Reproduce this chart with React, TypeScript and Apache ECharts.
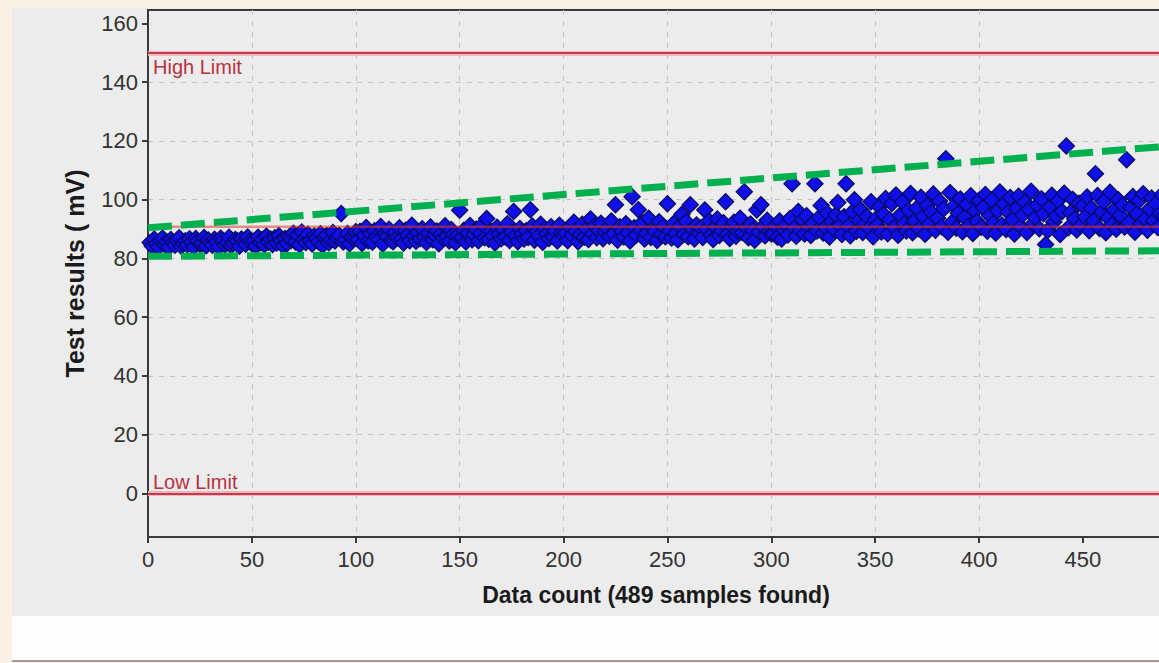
import React, { useEffect, useRef } from "react";
import * as echarts from "echarts";

// Test results (mV) by sample number, 489 samples in blocks of 50
const seg0 = [85.4, 84.2, 86.6, 85.0, 83.9, 86.1, 86.9, 84.7, 85.7, 83.8, 86.4, 85.3, 84.5, 86.2, 87.0, 84.1, 85.1, 86.0, 84.6, 86.7, 85.5, 83.9, 86.8, 85.9, 84.8, 85.0, 87.1, 84.3, 86.3, 85.2, 84.5, 86.5, 85.7, 84.0, 86.9, 86.2, 84.6, 85.3, 87.2, 84.4, 85.1, 86.4, 86.0, 84.1, 86.6, 85.5, 84.8, 87.3, 85.8, 85.0];
const seg1 = [85.8, 84.3, 87.2, 85.3, 86.4, 84.6, 87.5, 85.5, 86.6, 84.7, 87.0, 85.2, 87.7, 86.0, 84.4, 86.8, 85.1, 87.4, 86.2, 88.6, 85.6, 88.0, 84.6, 89.0, 86.4, 85.4, 88.2, 86.0, 84.9, 87.6, 86.8, 85.7, 88.4, 84.5, 87.2, 87.8, 85.3, 86.3, 88.8, 85.9, 87.0, 87.9, 95.3, 85.6, 86.4, 88.5, 85.0, 87.3, 86.6, 89.1];
const seg2 = [86.4, 89.2, 85.1, 87.8, 90.5, 85.9, 88.5, 85.5, 89.4, 87.3, 86.5, 90.9, 84.9, 88.1, 87.5, 89.9, 86.2, 85.7, 88.9, 87.0, 90.4, 86.8, 85.2, 89.6, 88.0, 86.0, 91.3, 87.6, 85.8, 88.8, 86.7, 90.1, 87.2, 85.4, 88.6, 90.7, 86.3, 87.9, 89.3, 85.0, 88.3, 86.9, 91.1, 87.4, 85.9, 89.8, 88.1, 85.3, 87.8, 96.4];
const seg3 = [87.2, 89.6, 85.6, 88.7, 91.2, 86.3, 88.0, 89.9, 86.0, 88.4, 91.5, 87.0, 93.6, 86.5, 89.2, 87.6, 85.2, 90.6, 88.2, 86.7, 89.8, 87.3, 91.8, 86.1, 88.9, 96.0, 87.8, 85.7, 90.2, 88.5, 86.6, 89.4, 87.1, 96.6, 91.0, 86.2, 89.1, 87.7, 91.6, 85.5, 90.0, 88.3, 86.8, 90.8, 87.4, 89.3, 85.9, 91.3, 88.6, 87.9];
const seg4 = [88.6, 86.0, 90.6, 87.8, 92.3, 89.2, 85.7, 88.1, 91.6, 87.2, 89.9, 86.4, 93.4, 88.5, 91.0, 87.0, 89.5, 92.0, 86.7, 89.0, 90.3, 87.5, 92.7, 88.3, 98.3, 86.2, 90.8, 89.1, 87.3, 91.8, 88.8, 85.9, 101.0, 90.4, 88.0, 96.6, 89.6, 92.2, 86.6, 88.6, 93.7, 87.1, 90.2, 89.3, 86.1, 92.5, 88.2, 90.9, 87.4, 98.6];
const seg5 = [89.4, 86.9, 91.9, 88.5, 86.3, 91.0, 95.0, 88.2, 92.6, 87.4, 98.3, 89.8, 86.6, 91.4, 88.7, 90.4, 87.1, 96.5, 90.0, 92.8, 88.0, 86.4, 90.7, 93.4, 87.8, 89.5, 92.1, 99.3, 88.4, 86.8, 91.1, 92.3, 87.5, 89.2, 93.7, 88.8, 102.7, 90.5, 87.0, 91.7, 89.7, 86.2, 96.5, 89.0, 98.3, 90.8, 87.7, 93.0, 89.1, 88.3];
const seg6 = [88.5, 91.1, 87.2, 92.7, 86.6, 89.7, 91.5, 88.0, 93.6, 105.4, 90.2, 87.5, 96.0, 89.5, 93.1, 88.3, 94.5, 90.8, 87.8, 92.0, 105.4, 89.3, 93.9, 98.0, 88.6, 90.6, 95.4, 87.3, 92.4, 89.9, 94.9, 99.0, 91.2, 88.1, 94.2, 105.4, 90.9, 87.7, 95.8, 100.0, 89.2, 92.9, 96.6, 88.8, 91.8, 94.3, 90.3, 99.3, 87.4, 93.2];
const seg7 = [91.3, 97.6, 89.0, 95.0, 100.4, 88.4, 93.2, 98.7, 90.5, 101.6, 87.9, 94.8, 99.2, 91.9, 89.3, 96.4, 102.1, 88.7, 92.8, 97.1, 90.0, 100.8, 94.3, 88.2, 98.0, 91.6, 95.7, 101.9, 89.6, 93.7, 99.5, 90.8, 96.9, 113.9, 88.9, 102.4, 92.3, 97.8, 90.3, 95.4, 100.2, 89.1, 94.0, 98.4, 91.1, 101.3, 88.5, 96.1, 92.6, 99.8];
const seg8 = [90.6, 97.3, 101.8, 89.2, 94.6, 99.9, 92.0, 88.6, 96.2, 102.6, 91.4, 98.5, 89.8, 95.8, 100.7, 93.1, 88.3, 97.0, 101.2, 90.9, 94.9, 99.1, 88.8, 96.7, 102.9, 91.8, 93.9, 98.1, 90.1, 100.3, 95.2, 84.7, 89.5, 97.5, 101.5, 92.4, 94.4, 99.6, 88.1, 96.0, 102.2, 118.3, 90.4, 95.6, 100.1, 93.5, 89.7, 98.8, 91.2, 97.9];
const seg9 = [94.1, 100.9, 89.4, 97.2, 92.7, 108.8, 101.4, 90.2, 95.9, 99.3, 88.7, 93.8, 102.5, 91.5, 96.6, 89.9, 100.0, 94.7, 98.2, 90.7, 113.6, 92.1, 97.4, 101.1, 88.9, 95.3, 99.7, 91.9, 102.0, 93.3, 89.6, 96.8, 100.6, 92.8, 98.6, 90.5, 95.1, 101.7, 94.5];

const highLimit = 150;
const lowLimit = 0;
const meanLevel = [[0, 90.8], [489, 90.8]];
const upperTrend = [[0, 90.4], [489, 118.1]];
const lowerTrend = [[0, 80.7], [489, 82.6]];

const xTicks = [0, 50, 100, 150, 200, 250, 300, 350, 400, 450];
const yTicks = [0, 20, 40, 60, 80, 100, 120, 140, 160];

const xName = "Data count (489 samples found)";
const yName = "Test results ( mV)";

const FONT = "'Liberation Sans', Arial, Helvetica, sans-serif";

export default function App() {
  const ref = useRef<HTMLDivElement>(null);

  useEffect(() => {
    if (!ref.current) return;
    const chart = echarts.init(ref.current, null, { renderer: "svg" });
    const values = [...seg0, ...seg1, ...seg2, ...seg3, ...seg4, ...seg5, ...seg6, ...seg7, ...seg8, ...seg9];
    const points = values.map((v, i) => [i + 1, v]);
    const axisColor = "#3a3a3a";
    const splitStyle = {
      show: true,
      showMinLine: false,
      showMaxLine: false,
      lineStyle: { color: "#c3c3c3", width: 1, type: [5, 6] as any },
    };

    chart.setOption({
      animation: false,
      backgroundColor: "transparent",
      textStyle: { fontFamily: FONT },
      grid: {
        left: 148,
        top: 10,
        right: 16,
        bottom: 126,
        show: true,
        borderColor: axisColor,
        borderWidth: 2,
        backgroundColor: "transparent",
      },
      xAxis: {
        type: "value",
        min: 0,
        max: 489,
        interval: 50,
        name: xName,
        nameLocation: "middle",
        nameGap: 46,
        nameTextStyle: { fontSize: 23, fontWeight: "bold", color: "#1a1a1a", fontFamily: FONT },
        axisLine: { show: true, onZero: false, lineStyle: { color: axisColor, width: 2 } },
        axisTick: { show: true, inside: false, length: 6, customValues: xTicks, lineStyle: { color: axisColor, width: 2 } },
        axisLabel: { fontSize: 22, color: "#333", margin: 11, customValues: xTicks, fontFamily: FONT },
        splitLine: splitStyle,
      },
      yAxis: {
        type: "value",
        min: -14.9,
        max: 164.6,
        splitNumber: 9,
        name: yName,
        nameLocation: "middle",
        nameGap: 61,
        nameTextStyle: { fontSize: 25, fontWeight: "bold", color: "#1a1a1a", fontFamily: FONT },
        axisLine: { show: true, onZero: false, lineStyle: { color: axisColor, width: 2 } },
        axisTick: { show: true, inside: false, length: 6, customValues: yTicks, lineStyle: { color: axisColor, width: 2 } },
        axisLabel: { fontSize: 22, color: "#333", margin: 10, customValues: yTicks, fontFamily: FONT },
        splitLine: splitStyle,
      },
      series: [
        {
          name: "Results",
          type: "scatter",
          data: points,
          symbol: "diamond",
          symbolSize: 16,
          itemStyle: { color: "#0f0fe8", borderColor: "#0a0a70", borderWidth: 1.4, opacity: 1 },
          z: 2,
          markLine: {
            silent: true,
            symbol: ["none", "none"],
            animation: false,
            data: [
              { yAxis: highLimit, lineStyle: { color: "#f3b6bd", width: 5, type: "solid" }, label: { show: false } },
              {
                yAxis: highLimit,
                lineStyle: { color: "#c23b4b", width: 2, type: "solid" },
                label: { show: true, position: "insideStartBottom", formatter: "High Limit", color: "#b8303f", fontSize: 20, distance: [5, 4], fontFamily: FONT },
              },
              { yAxis: lowLimit, lineStyle: { color: "#f3b6bd", width: 5, type: "solid" }, label: { show: false } },
              {
                yAxis: lowLimit,
                lineStyle: { color: "#c23b4b", width: 2, type: "solid" },
                label: { show: true, position: "insideStartTop", formatter: "Low Limit", color: "#b8303f", fontSize: 20, distance: [5, 1], fontFamily: FONT },
              },
            ],
          },
        },
        {
          name: "Mean",
          type: "line",
          data: meanLevel,
          showSymbol: false,
          symbol: "none",
          lineStyle: { color: "#e03a2a", width: 2.5, opacity: 0.55 },
          z: 3,
        },
        {
          name: "Upper trend",
          type: "line",
          data: upperTrend,
          showSymbol: false,
          symbol: "none",
          lineStyle: { color: "#00b04f", width: 7, type: [24, 9] as any, cap: "butt" },
          z: 4,
        },
        {
          name: "Lower trend",
          type: "line",
          data: lowerTrend,
          showSymbol: false,
          symbol: "none",
          lineStyle: { color: "#00b04f", width: 7, type: [24, 9] as any, cap: "butt" },
          z: 4,
        },
      ],
    });
    return () => chart.dispose();
  }, []);

  return (
    <div style={{ position: "fixed", left: 0, top: 0, right: 0, bottom: 0, overflow: "hidden", background: "#faf0e6" }}>
      <div style={{ position: "absolute", left: 12, top: 8, width: 1200, height: 608, background: "#ececec" }} />
      <div style={{ position: "absolute", left: 12, top: 616, width: 1200, height: 44, background: "#fefefe" }} />
      <div style={{ position: "absolute", left: 12, top: 660, width: 1200, height: 2, background: "#9c9c9c" }} />
      <div ref={ref} style={{ position: "absolute", left: 0, top: 0, width: 1180, height: 663 }} />
    </div>
  );
}
